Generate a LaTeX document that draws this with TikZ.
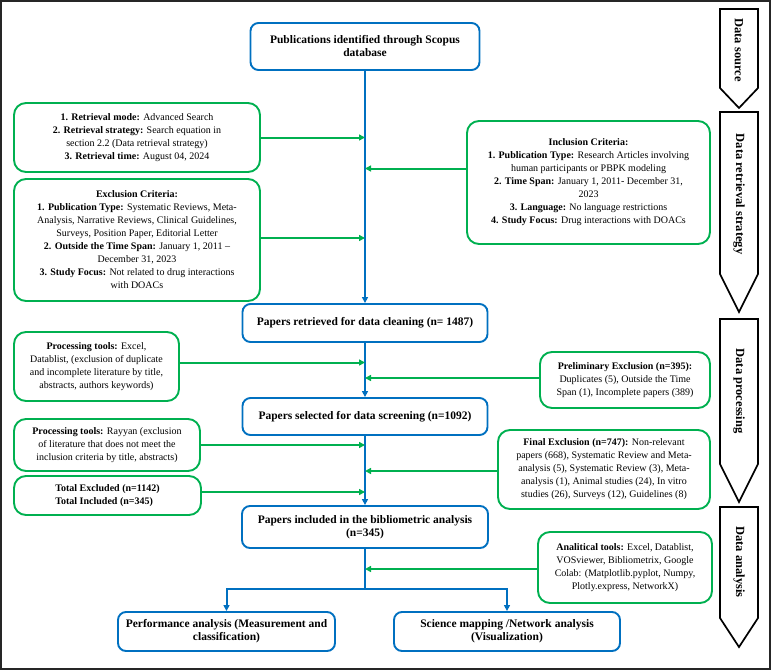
\documentclass[tikz,border=0pt]{standalone}
\usepackage{fontspec}
\setmainfont{Liberation Serif}
\usetikzlibrary{arrows.meta,calc}
\definecolor{bblue}{RGB}{0,112,192}
\definecolor{bgreen}{RGB}{0,176,80}
\begin{document}
\begin{tikzpicture}[x=1pt,y=-1pt,
  bluebox/.style={draw=bblue,line width=1.9pt,rounded corners=8pt,align=center,
    font=\fontsize{11.5}{13}\selectfont\bfseries,inner sep=0pt},
  greenbox/.style={draw=bgreen,line width=1.9pt,rounded corners=12pt,align=center,
    font=\fontsize{10}{13}\selectfont,inner sep=0pt},
  bline/.style={draw=bblue,line width=2pt},
  barrow/.style={bline,-{Triangle[width=6pt,length=6pt]}},
  garrow/.style={draw=bgreen,line width=2pt,-{Triangle[width=6pt,length=6pt]}},
  chev/.style={draw=black,line width=1.7pt,line join=miter},
  chevtext/.style={rotate=-90,font=\fontsize{12.5}{14}\selectfont\bfseries}
]
\useasboundingbox (0,0) rectangle (777,670);
\draw[line width=1.2pt,black!85] (1,1) rectangle (770,669);

% main blue boxes
\node[bluebox,minimum width=229pt,minimum height=47pt] (top) at (365,46.5)
  {Publications identified through Scopus\\database};
\node[bluebox,minimum width=245pt,minimum height=38pt] (ret) at (365,323)
  {Papers retrieved for data cleaning (n= 1487)};
\node[bluebox,minimum width=245pt,minimum height=37pt] (sel) at (365,416.5)
  {Papers selected for data screening (n=1092)};
\node[bluebox,minimum width=246pt,minimum height=42pt] (inc) at (365,527)
  {Papers included in the bibliometric analysis\\(n=345)};
\node[bluebox,minimum width=217pt,minimum height=39pt] (perf) at (226.5,631.5)
  {Performance analysis (Measurement and\\classification)};
\node[bluebox,minimum width=226pt,minimum height=39pt] (sci) at (507,631.5)
  {Science mapping /Network analysis\\(Visualization)};

% green boxes left
\node[greenbox,minimum width=246pt,minimum height=69pt] (rmode) at (137,137.5)
  {\textbf{1. Retrieval mode:} Advanced Search\\
   \textbf{2. Retrieval strategy:} Search equation in\\
   section 2.2 (Data retrieval strategy)\\
   \textbf{3. Retrieval time:} August 04, 2024};
\node[greenbox,minimum width=246pt,minimum height=122pt] (excl) at (137,240)
  {\textbf{Exclusion Criteria:}\\
   \textbf{1. Publication Type:} Systematic Reviews, Meta-\\
   Analysis, Narrative Reviews, Clinical Guidelines,\\
   Surveys, Position Paper, Editorial Letter\\
   \textbf{2. Outside the Time Span:} January 1, 2011 –\\
   December 31, 2023\\
   \textbf{3. Study Focus:} Not related to drug interactions\\
   with DOACs};
\node[greenbox,minimum width=165pt,minimum height=69pt] (proc1) at (96.5,366.5)
  {\textbf{Processing tools:} Excel,\\
   Datablist, (exclusion of duplicate\\
   and incomplete literature by title,\\
   abstracts, authors keywords)};
\node[greenbox,minimum width=186pt,minimum height=52pt] (proc2) at (107,445)
  {\textbf{Processing tools:} Rayyan (exclusion\\
   of literature that does not meet the\\
   inclusion criteria by title, abstracts)};
\node[greenbox,minimum width=187pt,minimum height=39pt,align=left] (total) at (107.5,495.5)
  {\textbf{Total Excluded (n=1142)}\\
   \textbf{Total Included (n=345)}};

% green boxes right
\node[greenbox,minimum width=243pt,minimum height=123pt] (incl) at (588.5,182.5)
  {\textbf{Inclusion Criteria:}\\
   \textbf{1. Publication Type:} Research Articles involving\\
   human participants or PBPK modeling\\
   \textbf{2. Time Span:} January 1, 2011- December 31,\\
   2023\\
   \textbf{3. Language:} No language restrictions\\
   \textbf{4. Study Focus:} Drug interactions with DOACs};
\node[greenbox,minimum width=170pt,minimum height=56pt] (prelim) at (625,380)
  {\textbf{Preliminary Exclusion (n=395):}\\
   Duplicates (5), Outside the Time\\
   Span (1), Incomplete papers (389)};
\node[greenbox,minimum width=212pt,minimum height=79pt] (final) at (604,469.5)
  {\textbf{Final Exclusion (n=747):} Non-relevant\\
   papers (668), Systematic Review and Meta-\\
   analysis (5), Systematic Review (3), Meta-\\
   analysis (1), Animal studies (24), In vitro\\
   studies (26), Surveys (12), Guidelines (8)};
\node[greenbox,minimum width=174pt,minimum height=71pt] (anal) at (625,567.5)
  {\textbf{Analitical tools:} Excel, Datablist,\\
   VOSviewer, Bibliometrix, Google\\
   Colab: (Matplotlib.pyplot, Numpy,\\
   Plotly.express, NetworkX)};

% main flow
\draw[barrow] (top.south) -- (ret.north);
\draw[barrow] (ret.south) -- (sel.north);
\draw[barrow] (sel.south) -- (inc.north);
\coordinate (split) at ($(inc.south)+(0,40)$);
\draw[bline] (inc.south) -- (split);
\draw[barrow] (split) -| (perf.north);
\draw[barrow] (split) -| (sci.north);

% green connectors
\draw[garrow] (rmode.east) -- (rmode.east -| top.south);
\draw[garrow] ([yshift=2pt]excl.east) -- ([yshift=2pt]excl.east -| top.south);
\draw[garrow] ([yshift=14pt]incl.west) -- ([yshift=14pt]incl.west -| top.south);
\draw[garrow] ([yshift=4pt]proc1.east) -- ([yshift=4pt]proc1.east -| ret.south);
\draw[garrow] ([yshift=2pt]prelim.west) -- ([yshift=2pt]prelim.west -| ret.south);
\draw[garrow] (proc2.east) -- (proc2.east -| sel.south);
\draw[garrow] ([yshift=-1.5pt]final.west) -- ([yshift=-1.5pt]final.west -| sel.south);
\draw[garrow] ([yshift=3.5pt]total.east) -- ([yshift=3.5pt]total.east -| sel.south);
\draw[garrow] ([yshift=-1.5pt]anal.west) -- ([yshift=-1.5pt]anal.west -| inc.south);

% stage chevrons
\draw[chev] (720,9) -- (758,9) -- (758,88) -- (739,108) -- (720,88) -- cycle;
\node[chevtext] (s1) at (739,50) {Data source};
\draw[chev] (720,112) -- (758,112) -- (758,274) -- (739,312) -- (720,274) -- cycle;
\node[chevtext] (s2) at (739,194) {Data retrieval strategy};
\draw[chev] (720,319) -- (758,319) -- (758,464) -- (739,502) -- (720,464) -- cycle;
\node[chevtext] (s3) at (739,391) {Data processing};
\draw[chev] (720,507) -- (758,507) -- (758,618) -- (739,647) -- (720,618) -- cycle;
\node[chevtext] (s4) at (739,562) {Data analysis};
\end{tikzpicture}
\end{document}
